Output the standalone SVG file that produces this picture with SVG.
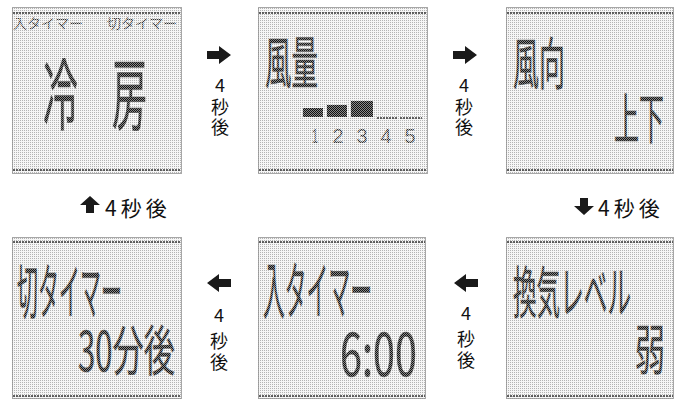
<svg xmlns="http://www.w3.org/2000/svg" width="683" height="400" viewBox="0 0 683 400">
<defs>
<pattern id="bg" width="2" height="2" patternUnits="userSpaceOnUse"><rect width="2" height="2" fill="#f6f6f6"/><rect width="1" height="1" fill="#b4b4b4"/></pattern>
<pattern id="ink" width="2" height="2" patternUnits="userSpaceOnUse"><rect width="2" height="2" fill="#8a8a8a"/><rect width="1" height="1" fill="#111"/><rect x="1" y="1" width="1" height="1" fill="#111"/></pattern>
<pattern id="lite" width="2" height="2" patternUnits="userSpaceOnUse"><rect width="2" height="2" fill="#bbb"/><rect width="1" height="1" fill="#333"/><rect x="1" y="1" width="1" height="1" fill="#333"/></pattern>
</defs>
<style>
.box{fill:url(#bg);stroke:#555;stroke-width:1;stroke-dasharray:1 1}
.rule{stroke:#333;stroke-width:1.5;stroke-dasharray:2 1}
.big{font-family:"Noto Sans CJK JP","Noto Sans",sans-serif;fill:url(#ink);stroke:#555;stroke-width:0.4}
.sm{font-family:"Noto Sans CJK JP","Noto Sans",sans-serif;font-size:13px;fill:url(#lite)}
.lbl{font-family:"Noto Sans CJK JP","Noto Sans",sans-serif;font-size:18px;fill:#111;text-anchor:middle}
.hl{font-family:"Noto Sans CJK JP","Noto Sans",sans-serif;font-size:21px;fill:#111;letter-spacing:4px}
.arr{fill:#1a1a1a}
.dig{font-family:"Liberation Sans",sans-serif;font-size:21px;fill:url(#lite);text-anchor:middle}
.bar{fill:url(#ink)}
</style>

<g id="node-cooling">
<rect class="box" x="12.5" y="7.5" width="169" height="166"/>
<line class="rule" x1="13" y1="13" x2="181" y2="13"/>
<line class="rule" x1="13" y1="170" x2="181" y2="170"/>
<text class="sm" x="13" y="28" textLength="70" lengthAdjust="spacingAndGlyphs">入タイマー</text>
<text class="sm" x="107" y="28" textLength="70" lengthAdjust="spacingAndGlyphs">切タイマー</text>
<text class="big" x="43" y="124" font-size="78" textLength="35" lengthAdjust="spacingAndGlyphs">冷</text>
<text class="big" x="112" y="124" font-size="78" textLength="35" lengthAdjust="spacingAndGlyphs">房</text>
</g>

<g id="node-airflow">
<rect class="box" x="258.5" y="7.5" width="169" height="166"/>
<line class="rule" x1="259" y1="13" x2="427" y2="13"/>
<line class="rule" x1="259" y1="170" x2="427" y2="170"/>
<text class="big" x="265" y="83" font-size="56" textLength="53" lengthAdjust="spacingAndGlyphs">風量</text>
<rect class="bar" x="303" y="108" width="20" height="9"/>
<rect class="bar" x="327" y="105" width="20" height="12"/>
<rect class="bar" x="351" y="101" width="22" height="16"/>
<line class="rule" x1="377" y1="118" x2="397" y2="118"/>
<line class="rule" x1="400" y1="118" x2="422" y2="118"/>
<text class="dig" x="315" y="143" textLength="6" lengthAdjust="spacingAndGlyphs">1</text>
<text class="dig" x="338" y="143" textLength="11" lengthAdjust="spacingAndGlyphs">2</text>
<text class="dig" x="362" y="143" textLength="11" lengthAdjust="spacingAndGlyphs">3</text>
<text class="dig" x="386" y="143" textLength="11" lengthAdjust="spacingAndGlyphs">4</text>
<text class="dig" x="410" y="143" textLength="11" lengthAdjust="spacingAndGlyphs">5</text>
</g>

<g id="node-direction">
<rect class="box" x="506.5" y="7.5" width="167" height="166"/>
<line class="rule" x1="507" y1="13" x2="673" y2="13"/>
<line class="rule" x1="507" y1="170" x2="673" y2="170"/>
<text class="big" x="513" y="84" font-size="56" textLength="52" lengthAdjust="spacingAndGlyphs">風向</text>
<text class="big" x="614" y="139" font-size="54" textLength="50" lengthAdjust="spacingAndGlyphs">上下</text>
</g>

<g id="node-ventilation">
<rect class="box" x="506.5" y="237.5" width="167" height="161"/>
<line class="rule" x1="507" y1="242" x2="673" y2="242"/>
<line class="rule" x1="507" y1="396" x2="673" y2="396"/>
<text class="big" x="513" y="313" font-size="56" textLength="118" lengthAdjust="spacingAndGlyphs">換気レベル</text>
<text class="big" x="635" y="370" font-size="54" textLength="30" lengthAdjust="spacingAndGlyphs">弱</text>
</g>

<g id="node-on-timer">
<rect class="box" x="258.5" y="237.5" width="167" height="161"/>
<line class="rule" x1="259" y1="242" x2="425" y2="242"/>
<line class="rule" x1="259" y1="396" x2="425" y2="396"/>
<text class="big" x="263" y="314" font-size="62" textLength="109" lengthAdjust="spacingAndGlyphs">入タイマー</text>
<text class="big" x="340" y="376" font-size="60" textLength="77" lengthAdjust="spacingAndGlyphs">6:00</text>
</g>

<g id="node-off-timer">
<rect class="box" x="12.5" y="237.5" width="169" height="161"/>
<line class="rule" x1="13" y1="242" x2="181" y2="242"/>
<line class="rule" x1="13" y1="396" x2="181" y2="396"/>
<text class="big" x="17" y="314" font-size="60" textLength="105" lengthAdjust="spacingAndGlyphs">切タイマー</text>
<text class="big" x="78" y="371" font-size="54" textLength="97" lengthAdjust="spacingAndGlyphs">30分後</text>
</g>

<g id="connectors">
<polygon class="arr" points="207,51 219,51 219,46 231,55 219,64 219,59 207,59"/>
<text class="lbl" x="220" y="92">4</text>
<text class="lbl" x="220" y="114">秒</text>
<text class="lbl" x="220" y="134">後</text>

<polygon class="arr" points="453,51 465,51 465,46 477,55 465,64 465,59 453,59"/>
<text class="lbl" x="464" y="92">4</text>
<text class="lbl" x="464" y="114">秒</text>
<text class="lbl" x="464" y="134">後</text>

<polygon class="arr" points="580,198 588,198 588,206 594,206 584,215 574,206 580,206"/>
<text class="hl" x="598" y="216">4秒後</text>

<polygon class="arr" points="478,279 466,279 466,274 454,283 466,292 466,287 478,287"/>
<text class="lbl" x="466" y="320">4</text>
<text class="lbl" x="466" y="346">秒</text>
<text class="lbl" x="466" y="367">後</text>

<polygon class="arr" points="231,279 219,279 219,274 207,283 219,292 219,287 231,287"/>
<text class="lbl" x="219" y="322">4</text>
<text class="lbl" x="219" y="348">秒</text>
<text class="lbl" x="219" y="369">後</text>

<polygon class="arr" points="86,213 94,213 94,205 100,205 90,196 80,205 86,205"/>
<text class="hl" x="105" y="216">4秒後</text>
</g>
</svg>
